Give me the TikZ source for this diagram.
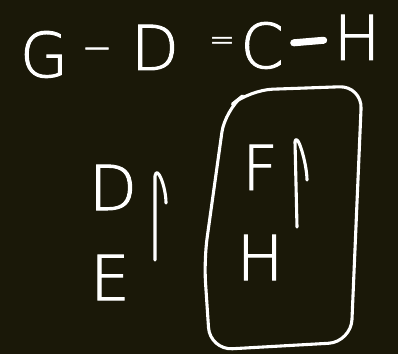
\documentclass[tikz,border=0pt]{standalone}
\usepackage{fontspec}
\newfontfamily\hand[FakeBold=1.6]{DejaVu Sans ExtraLight}
\usetikzlibrary{arrows.meta}
\definecolor{board}{RGB}{26,24,8}

\begin{document}
\begin{tikzpicture}[x=0.025cm, y=-0.025cm,
  letter/.style={text=white, font=\hand\fontsize{44}{48}\selectfont, inner sep=0pt, anchor=base},
  sign/.style={letter, font=\hand\fontsize{26}{30}\selectfont},
  small/.style={letter, font=\hand\fontsize{22}{26}\selectfont},
  pen/.style={draw=white, line width=2.2pt, line cap=round, line join=round},
  bond/.style={pen, line width=5pt, shorten <=7, shorten >=7}
]
\fill[board] (0,0) rectangle (398,354);
\useasboundingbox (0,0) rectangle (398,354);

% obere Zeile
\node (G) [letter] at (44,77) {G};
\node (m1) [sign] at (97,60) {−};
\node (D) [letter] at (155,70) {D};
\node (eq) [small] at (222,50) {=};
\node (C) [letter] at (262,68) {C};
\node (H) [letter] at (357,60) {H};
\draw [bond] (C) -- (H);

% links
\node (Dl) [letter] at (113,210) {D};
\node (E) [letter] at (110,300) {E};

% im Kasten
\node (F) [letter] at (260,190) {F};
\node (Hb) [letter] at (260,280) {H};

% Pfeile
\coordinate (up1) at (155,260);
\coordinate (tip1) at (155,176);
\coordinate (hook1) at (166,203);
\draw [pen] (up1) -- (tip1) .. controls +(2,-12) and +(0,-16) .. (hook1);
\coordinate (up2) at (297,227);
\coordinate (tip2) at (295,142);
\coordinate (hook2) at (307,180);
\draw [pen] (up2) -- (tip2) .. controls +(2,-12) and +(0,-16) .. (hook2);

% Kasten
\draw [pen, rounded corners=16] (250,90) -- (362,86) -- (351,342) -- (210,350)
  -- (204,260) -- (225,110) -- cycle;

\end{tikzpicture}
\end{document}
